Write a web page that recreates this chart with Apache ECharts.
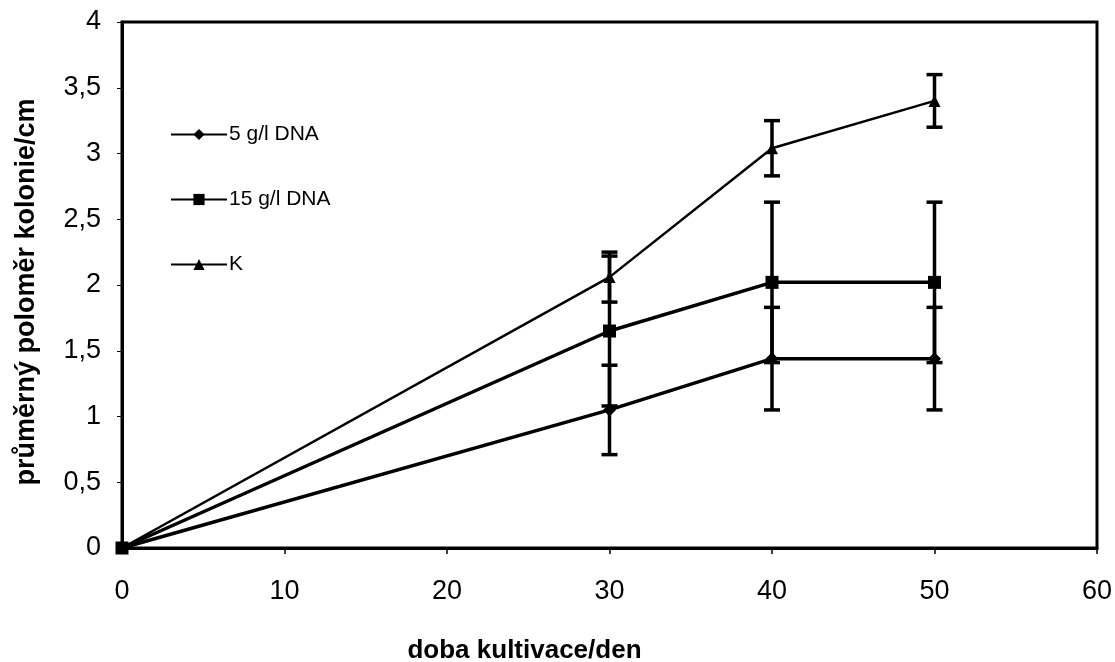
<!DOCTYPE html>
<html>
<head>
<meta charset="utf-8">
<script src="https://cdn.jsdelivr.net/npm/echarts@6/dist/echarts.min.js"></script>
<style>html,body{margin:0;padding:0;background:#fff;}#c{width:1115px;height:662px;}</style>
</head>
<body>
<div id="c"></div>
<script>
// ---- data ----
const days = [0, 30, 40, 50];
const names = ['5 g/l DNA', '15 g/l DNA', 'K'];
const dna5 = [0, 1.05, 1.44, 1.44];
const dna5Err = [0, 0.34, 0.39, 0.39];
const dna15 = [0, 1.65, 2.02, 2.02];
const dna15Err = [0, 0.57, 0.61, 0.61];
const ctrlK = [0, 2.06, 3.04, 3.40];
const ctrlKErr = [0, 0.19, 0.21, 0.20];
const yTicks = [0, 0.5, 1, 1.5, 2, 2.5, 3, 3.5, 4];
const xTicks = [0, 10, 20, 30, 40, 50, 60];

const FONT = '"Liberation Sans", Arial, sans-serif';

function pts(vals) { return days.map((d, i) => [d, vals[i]]); }
function errPts(vals, errs) {
  return days.map((d, i) => [d, vals[i], errs[i]]).filter(p => p[2] > 0);
}
function errSeries(vals, errs) {
  return {
    type: 'custom',
    silent: true,
    z: 1,
    data: errPts(vals, errs),
    renderItem: function (params, api) {
      const x = api.value(0), y = api.value(1), e = api.value(2);
      const top = api.coord([x, y + e]);
      const bot = api.coord([x, y - e]);
      const hw = 8;
      const st = { stroke: '#000', lineWidth: 3.5 };
      return {
        type: 'group',
        children: [
          { type: 'line', shape: { x1: top[0], y1: top[1], x2: bot[0], y2: bot[1] }, style: st },
          { type: 'line', shape: { x1: top[0] - hw, y1: top[1], x2: top[0] + hw, y2: top[1] }, style: st },
          { type: 'line', shape: { x1: bot[0] - hw, y1: bot[1], x2: bot[0] + hw, y2: bot[1] }, style: st }
        ]
      };
    }
  };
}

const chart = echarts.init(document.getElementById('c'), null, { renderer: 'canvas' });
chart.setOption({
  animation: false,
  backgroundColor: '#fff',
  textStyle: { fontFamily: FONT, color: '#000' },
  grid: { left: 122, right: 18, top: 22, bottom: 114, containLabel: false, outerBoundsMode: 'none',
    show: true, borderColor: '#000', borderWidth: 3, backgroundColor: 'transparent' },
  legend: {
    data: names,
    orient: 'vertical',
    left: 170,
    top: 124,
    padding: 0,
    itemWidth: 56,
    itemHeight: 14,
    itemGap: 44,
    textStyle: { fontFamily: FONT, fontSize: 21, lineHeight: 21, color: '#000', padding: [0, 0, 0, -3] },
    selectedMode: false
  },
  xAxis: {
    type: 'value',
    min: 0, max: 60, interval: 10,
    name: 'doba kultivace/den',
    nameLocation: 'middle',
    nameGap: 90,
    nameTextStyle: { fontFamily: FONT, fontSize: 26, fontWeight: 'bold', color: '#000', padding: [0, 170, 0, 0] },
    axisLine: { show: true, lineStyle: { color: '#000', width: 3 } },
    axisTick: { show: true, inside: false, length: 6, lineStyle: { color: '#000', width: 1.5 } },
    axisLabel: { margin: 30, fontFamily: FONT, fontSize: 27, color: '#000',
      formatter: v => xTicks.includes(v) ? String(v) : '' },
    splitLine: { show: false }
  },
  yAxis: {
    type: 'value',
    min: 0, max: 4, interval: 0.5,
    name: 'průměrný poloměr kolonie/cm',
    nameLocation: 'middle',
    nameGap: 82,
    nameTextStyle: { fontFamily: FONT, fontSize: 27, fontWeight: 'bold', color: '#000', padding: [0, 14, 0, 0] },
    axisLine: { show: true, lineStyle: { color: '#000', width: 3 } },
    axisTick: { show: true, inside: false, length: 5, lineStyle: { color: '#000', width: 1 } },
    axisLabel: { margin: 21, fontFamily: FONT, fontSize: 27, color: '#000',
      formatter: v => yTicks.includes(v) ? String(v).replace('.', ',') : '' },
    splitLine: { show: false }
  },
  series: [
    errSeries(dna5, dna5Err),
    errSeries(dna15, dna15Err),
    errSeries(ctrlK, ctrlKErr),
    {
      name: names[0], type: 'line', data: pts(dna5), z: 3,
      symbol: 'diamond', symbolSize: 13,
      lineStyle: { color: '#000', width: 3.5 }, itemStyle: { color: '#000' }
    },
    {
      name: names[1], type: 'line', data: pts(dna15), z: 3,
      symbol: 'rect', symbolSize: 13,
      lineStyle: { color: '#000', width: 3.5 }, itemStyle: { color: '#000' }
    },
    {
      name: names[2], type: 'line', data: pts(ctrlK), z: 3,
      symbol: 'triangle', symbolSize: 12,
      lineStyle: { color: '#000', width: 2.5 }, itemStyle: { color: '#000' }
    }
  ]
});
</script>
</body>
</html>
